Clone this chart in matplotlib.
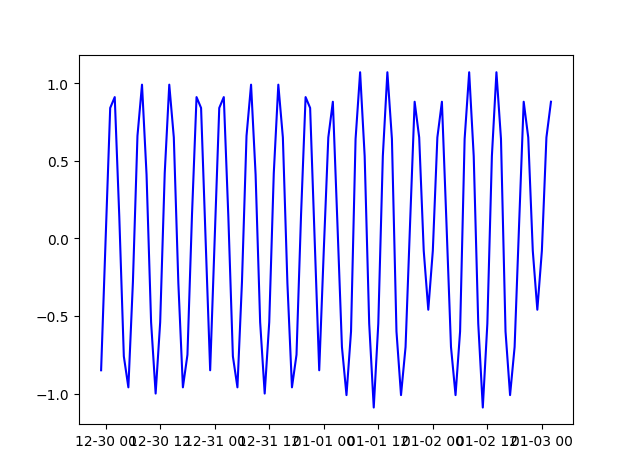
import pandas as pd
import matplotlib
matplotlib.use("Agg")
import matplotlib.pyplot as plt

# -------- DATA (hourly readings) ------------------------------------
START = "2019-12-29 23:00"

# last hour of 12-29
vals_1229 = [-0.85]
# 12-30 00:00 .. 23:00
vals_1230 = [0.00, 0.84, 0.91, 0.14, -0.76, -0.96, -0.28, 0.66, 0.99, 0.41, -0.54, -1.00,
             -0.54, 0.42, 0.99, 0.65, -0.29, -0.96, -0.75, 0.15, 0.91, 0.84, -0.01, -0.85]
# 12-31 00:00 .. 23:00
vals_1231 = [0.00, 0.84, 0.91, 0.14, -0.76, -0.96, -0.28, 0.66, 0.99, 0.41, -0.54, -1.00,
             -0.54, 0.42, 0.99, 0.65, -0.29, -0.96, -0.75, 0.15, 0.91, 0.84, -0.01, -0.85]
# 01-01 00:00 .. 23:00
vals_0101 = [-0.08, 0.65, 0.88, 0.10, -0.70, -1.01, -0.60, 0.64, 1.07, 0.53, -0.55, -1.09,
             -0.55, 0.53, 1.07, 0.64, -0.60, -1.01, -0.70, 0.10, 0.88, 0.65, -0.08, -0.46]
# 01-02 00:00 .. 23:00
vals_0102 = [-0.08, 0.65, 0.88, 0.10, -0.70, -1.01, -0.60, 0.64, 1.07, 0.53, -0.55, -1.09,
             -0.55, 0.53, 1.07, 0.64, -0.60, -1.01, -0.70, 0.10, 0.88, 0.65, -0.08, -0.46]
# 01-03 00:00 .. 02:00
vals_0103 = [-0.08, 0.65, 0.88]
# --------------------------------------------------------------------


def main():
    values = vals_1229 + vals_1230 + vals_1231 + vals_0101 + vals_0102 + vals_0103
    idx = pd.date_range(START, periods=len(values), freq="h")
    ts = pd.Series(values, index=idx)

    fig = plt.figure(figsize=(6.34, 4.77), dpi=100)
    fig.subplots_adjust(left=0.124, right=0.9045, top=0.8816, bottom=0.1084)
    ax = fig.add_subplot(111)
    ax.plot(ts.index.to_pydatetime(), ts.values, color="blue")

    fig.savefig("out.png", dpi=100)


if __name__ == "__main__":
    main()
